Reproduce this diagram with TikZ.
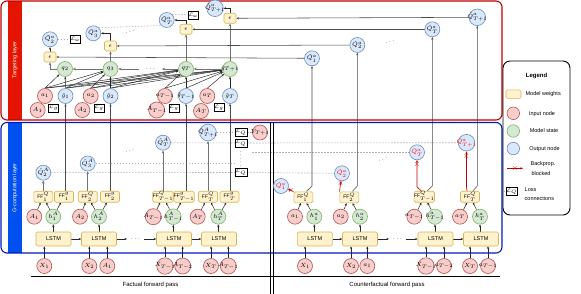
\documentclass[tikz,border=0pt]{standalone}
\usepackage{fontspec}
\setmainfont{Liberation Sans}
\usetikzlibrary{arrows.meta}
\pgfdeclarelayer{bg}
\pgfsetlayers{bg,main}
\definecolor{inF}{HTML}{F8CECC}\definecolor{inD}{HTML}{B85450}
\definecolor{stF}{HTML}{D5E8D4}\definecolor{stD}{HTML}{82B366}
\definecolor{ouF}{HTML}{DAE8FC}\definecolor{ouD}{HTML}{6C8EBF}
\definecolor{wtF}{HTML}{FFF2CC}\definecolor{wtD}{HTML}{D6B656}
\definecolor{tarR}{HTML}{E51400}\definecolor{tarD}{HTML}{C00000}
\definecolor{gcB}{HTML}{0050EF}\definecolor{gcD}{HTML}{001DBC}
\begin{document}
\begin{tikzpicture}[x=1pt,y=-1pt,
 nd/.style={circle,minimum size=15pt,inner sep=-2pt,line width=0.6pt,font=\fontsize{6.5}{7}\selectfont},
 inp/.style={nd,fill=inF,draw=inD},
 sta/.style={nd,fill=stF,draw=stD},
 outp/.style={nd,fill=ouF,draw=ouD},
 wt/.style={rectangle,rounded corners=1.5pt,fill=wtF,draw=wtD,line width=0.6pt,inner sep=0pt},
 ffb/.style={wt,minimum width=19pt,minimum height=11pt,font=\fontsize{5}{6}\selectfont},
 lstm/.style={wt,minimum width=35pt,minimum height=14pt,font=\fontsize{5.5}{6}\selectfont},
 epsb/.style={wt,minimum width=12pt,minimum height=10pt,font=\fontsize{6.5}{7}\selectfont},
 lossb/.style={rectangle,draw=black,fill=white,line width=0.5pt,minimum width=9pt,minimum height=8pt,inner sep=0.5pt,font=\fontsize{4.5}{5}\selectfont},
 arr/.style={-{Stealth[length=2.6pt,width=2.2pt]},line width=0.5pt,draw=black!85},
 garr/.style={-{Stealth[length=3pt,width=2.6pt]},line width=0.9pt,draw=black!55},
 upl/.style={-{Stealth[length=2.6pt,width=2.2pt]},line width=0.55pt,draw=black!70},
 lossl/.style={draw=black!30,dash pattern=on 1.5pt off 1.5pt,line width=0.6pt},
 blk/.style={-{Stealth[length=2.6pt,width=2.2pt]},line width=0.6pt,draw=red!75!black},
 xm/.style={text=red!85!black,inner sep=0pt,font=\fontsize{8.5}{8}\selectfont},
 dts/.style={inner sep=0pt,font=\fontsize{6.5}{6}\selectfont},
 lgt/.style={inner sep=0pt,font=\fontsize{5.5}{6}\selectfont}
]
\begin{pgfonlayer}{bg}
\fill[white] (0,0) rectangle (581,294);
\end{pgfonlayer}
\useasboundingbox (0,0) rectangle (581,294);

% ---------- layer boxes ----------
\fill[tarR] (8,1) rectangle (22,120);
\draw[tarD,line width=1.1pt,rounded corners=6pt] (1,1) rectangle (502,120);
\node[rotate=90,text=white,font=\fontsize{5.5}{6}\selectfont] at (15,60) {Targeting layer};
\fill[gcB] (8,122.5) rectangle (22,253);
\draw[gcD,line width=1.1pt,rounded corners=6pt] (1,122.5) rectangle (502,253);
\node[rotate=90,text=white,font=\fontsize{5.5}{6}\selectfont] at (15,188) {G-computation layer};

\draw[line width=0.8pt] (270.3,122.5) -- (270.3,294);
\draw[line width=0.8pt] (272.9,122.5) -- (272.9,294);
\draw[line width=0.8pt] (31,276) -- (500,276);
\node[font=\fontsize{6}{7}\selectfont] at (150.5,285) {Factual forward pass};
\node[font=\fontsize{6}{7}\selectfont] at (387,285) {Counterfactual forward pass};

% ---------- factual G-computation ----------
\node[inp] (X1) at (44.3,266) {$X_1$};
\node[inp] (X2) at (89.3,266) {$X_2$};
\node[inp] (A1b) at (107.3,266) {$A_1$};
\node[inp] (XTm) at (165,266) {$X_{T-1}$};
\node[inp] (ATm2b) at (182.7,266) {$A_{T-2}$};
\node[inp] (XT) at (211,266) {$X_T$};
\node[inp] (ATmb) at (228.3,266) {$A_{T-1}$};
\node[lstm] (L1) at (53.5,239) {LSTM};
\node[lstm] (L2) at (99,239) {LSTM};
\node[lstm] (L3) at (174,239) {LSTM};
\node[lstm] (L4) at (219,239) {LSTM};
\coordinate (dA) at (127,239);
\coordinate (dB) at (144,239);
\node[dts] at (135.5,239) {$\cdots$};
\node[inp] (A1) at (34.3,216.7) {$A_1$};
\node[sta] (h1) at (53.3,216.7) {$h^{A}_{1}$};
\node[inp] (A2) at (80,216.7) {$A_2$};
\node[sta] (h2) at (99,216.7) {$h^{A}_{2}$};
\node[inp] (ATm) at (153.3,216.7) {$A_{T-1}$};
\node[sta] (hTm) at (173.3,216.7) {$h^{A}_{T-1}$};
\node[inp] (AT) at (197.7,216.7) {$A_T$};
\node[sta] (hT) at (218.3,216.7) {$h^{A}_{T}$};
\node[ffb] (FQ1) at (43.3,196.7) {FF$^{Q}_{1}$};
\node[ffb] (Fg1) at (64,196.7) {FF$^{g}_{1}$};
\node[ffb] (FQ2) at (87.7,196.7) {FF$^{Q}_{2}$};
\node[ffb] (Fg2) at (110,196.7) {FF$^{g}_{2}$};
\node[ffb] (FQTm) at (163,196.7) {FF$^{Q}_{T-1}$};
\node[ffb] (FgTm) at (184,196.7) {FF$^{g}_{T-1}$};
\node[ffb] (FQT) at (208,196.7) {FF$^{Q}_{T}$};
\node[ffb] (FgT) at (229.5,196.7) {FF$^{g}_{T}$};
\node[outp] (QA2) at (43.3,172.7) {$\hat{Q}^{A}_{2}$};
\node[outp] (QA3) at (87.7,163.5) {$\hat{Q}^{A}_{3}$};
\node[outp] (QAT) at (163,142.7) {$\hat{Q}^{A}_{T}$};
\node[outp] (QAT1) at (208,132.5) {$\hat{Q}^{A}_{T+1}$};
\node[dts,rotate=20] at (130,151) {$\cdots$};
\node[lossb] (LQ1) at (241,132.5) {$\mathcal{L}_Q$};
\node[lossb] (LQ2) at (241,143) {$\mathcal{L}_Q$};
\node[lossb] (LQ3) at (241,172.5) {$\mathcal{L}_Q$};
\node[dts,rotate=90] at (241,157.5) {$\cdots\cdots$};
\node[inp] (YT1) at (260,132.5) {$Y_{T+1}$};
\coordinate (e3) at (236,163.5);
\coordinate (s4) at (252,152.3);

% ---------- counterfactual G-computation ----------
\node[inp] (Xc1) at (305,266) {$X_1$};
\node[inp] (Xc2) at (351,266) {$X_2$};
\node[inp] (a1b) at (367.3,266) {$a_1$};
\node[inp] (XcTm) at (426,266) {$X_{T-1}$};
\node[inp] (aTm2b) at (444,266) {$a_{T-2}$};
\node[inp] (XcT) at (470,266) {$X_T$};
\node[inp] (aTmb) at (488,266) {$a_{T-1}$};
\node[lstm] (Lc1) at (314.8,239) {LSTM};
\node[lstm] (Lc2) at (360,239) {LSTM};
\node[lstm] (Lc3) at (435.5,239) {LSTM};
\node[lstm] (Lc4) at (481,239) {LSTM};
\coordinate (dC) at (389,239);
\coordinate (dD) at (406,239);
\node[dts] at (397.5,239) {$\cdots$};
\node[inp] (ac1) at (295,216.7) {$a_1$};
\node[sta] (hc1) at (314.3,216.7) {$h^{a}_{1}$};
\node[inp] (ac2) at (340.7,216.7) {$a_2$};
\node[sta] (hc2) at (360,216.7) {$h^{a}_{2}$};
\node[inp] (acTm) at (414.3,216.7) {$a_{T-1}$};
\node[sta] (hcTm) at (435,216.7) {$h^{a}_{T-1}$};
\node[inp] (acT) at (460,216.7) {$a_T$};
\node[sta] (hcT) at (480,216.7) {$h^{a}_{T}$};
\node[ffb] (FQc1) at (303.3,197.3) {FF$^{Q}_{1}$};
\node[ffb] (FQc2) at (349.3,197.3) {FF$^{Q}_{2}$};
\node[ffb] (FQcTm) at (424.3,196.7) {FF$^{Q}_{T-1}$};
\node[ffb] (FQcT) at (470,196.7) {FF$^{Q}_{T}$};
\node[outp,text=red] (Qc1) at (281,186) {$\hat{Q}^{a}_{1}$};
\node[outp,text=red] (Qc2) at (342,173.3) {$\hat{Q}^{a}_{2}$};
\node[outp,text=red] (QcT) at (417,152.3) {$\hat{Q}^{a}_{T}$};
\node[outp,text=red] (QcT1) at (466.5,142.7) {$\hat{Q}^{a}_{T+1}$};
\node[dts,rotate=25] at (383,159.5) {$\cdots$};
\coordinate (rT) at (417,187);
\coordinate (rT1) at (466.5,187);
\coordinate (gc1) at (312,186);
\coordinate (gc2) at (357.3,186);
\coordinate (gcT) at (432.3,186);
\coordinate (gcT1) at (477.3,186);

% ---------- targeting layer ----------
\node[inp] (a1) at (45,96) {$a_1$};
\node[outp] (g1) at (65.5,96) {$\hat{g}_1$};
\node[inp] (A1t) at (37.7,110) {$A_1$};
\node[lossb] (Lg1) at (53.5,108) {$\mathcal{L}_g$};
\node[inp] (a2) at (90.7,96) {$a_2$};
\node[outp] (g2) at (110.5,96) {$\hat{g}_2$};
\node[inp] (A2t) at (82.3,110) {$A_2$};
\node[lossb] (Lg2) at (99,108) {$\mathcal{L}_g$};
\node[inp] (aTm) at (165,96) {$a_{T-1}$};
\node[outp] (gTm) at (186,96) {$\hat{g}_{T-1}$};
\node[inp] (ATmt) at (156.7,110) {$A_{T-1}$};
\node[lossb] (LgTm) at (174,108) {$\mathcal{L}_g$};
\node[inp] (aT) at (207.3,96) {$a_T$};
\node[outp] (gT) at (230,96) {$\hat{g}_T$};
\node[inp] (ATt) at (201,111) {$A_T$};
\node[lossb] (LgT) at (219,107.5) {$\mathcal{L}_g$};
\node[sta] (q2) at (65,69) {$q_2$};
\node[sta] (q3) at (110.5,69) {$q_3$};
\node[sta] (qT) at (186,69) {$q_T$};
\node[sta] (qT1) at (230,69) {$q_{T+1}$};
\coordinate (dq1) at (162,69);
\coordinate (dq2) at (139,69);
\node[dts] at (150.5,69) {$\cdots$};
\node[epsb] (e1) at (50,57) {$\epsilon$};
\node[epsb] (e2) at (110.5,46) {$\epsilon$};
\node[epsb] (eT) at (186,29.3) {$\epsilon$};
\node[epsb] (eT1) at (230,18.3) {$\epsilon$};
\node[outp] (Qt2) at (50,39.3) {$\tilde{Q}^{a}_{2}$};
\node[outp] (Qt3) at (93.3,33.3) {$\tilde{Q}^{a}_{3}$};
\node[outp] (QtT) at (166.7,20) {$\tilde{Q}^{a}_{T}$};
\node[outp] (QtT1) at (215,8.3) {$\tilde{Q}^{a}_{T+1}$};
\node[lossb] (Lt1) at (75,39.3) {$\mathcal{L}_{\mathrm{tar}}$};
\node[lossb] (Lt2) at (193,15) {$\mathcal{L}_{\mathrm{tar}}$};
\node[dts,rotate=15] at (130,31.5) {$\cdots$};
\node[outp] (Qs1) at (312,58.3) {$\hat{Q}^{a}_{1}$};
\node[outp] (Qs2) at (357.3,45) {$\hat{Q}^{a}_{2}$};
\node[outp] (QsT) at (432.3,29.3) {$\hat{Q}^{a}_{T}$};
\node[outp] (QsT1) at (477.3,17.3) {$\hat{Q}^{a}_{T+1}$};
\node[dts,rotate=15] at (390,41.5) {$\cdots$};

% ---------- connectors ----------
\begin{pgfonlayer}{bg}
\draw[lossl] (QA2) -- (LQ3) -- (Qc2);
\draw[lossl] (QA3) -- (e3);
\draw[lossl] (QAT) -- (LQ2) -- (QcT1);
\draw[lossl] (QAT1) -- (LQ1) -- (YT1);
\draw[lossl] (s4) -- (QcT);
\draw[lossl] (Qt2) -- (Lt1);
\draw[lossl] (Qt3.north east) -- (QtT.south west);
\draw[lossl] (QtT.north east) -- (Lt2);
\foreach \x/\l in {X1/L1,X2/L2,A1b/L2,XTm/L3,ATm2b/L3,XT/L4,ATmb/L4}
  \draw[arr] (\x) -- (\x |- \l.south);
\draw[arr] (L1) -- (L2);
\draw[arr] (L2) -- (dA);
\draw[arr] (dB) -- (L3);
\draw[arr] (L3) -- (L4);
\foreach \h/\l in {h1/L1,h2/L2,hTm/L3,hT/L4}
  \draw[arr] (\h |- \l.north) -- (\h);
\foreach \a/\f in {A1/FQ1,h1/FQ1,h1/Fg1,A2/FQ2,h2/FQ2,h2/Fg2,ATm/FQTm,hTm/FQTm,hTm/FgTm,AT/FQT,hT/FQT,hT/FgT}
  \draw[arr] (\a) -- (\f);
\foreach \f/\q in {FQ1/QA2,FQ2/QA3,FQTm/QAT,FQT/QAT1}
  \draw[garr] (\f) -- (\q);
\foreach \f/\g in {Fg1/g1,Fg2/g2,FgTm/gTm,FgT/gT}
  \draw[upl] (\g |- \f.north) -- (\g);
\foreach \x/\l in {Xc1/Lc1,Xc2/Lc2,a1b/Lc2,XcTm/Lc3,aTm2b/Lc3,XcT/Lc4,aTmb/Lc4}
  \draw[arr] (\x) -- (\x |- \l.south);
\draw[arr] (Lc1) -- (Lc2);
\draw[arr] (Lc2) -- (dC);
\draw[arr] (dD) -- (Lc3);
\draw[arr] (Lc3) -- (Lc4);
\foreach \h/\l in {hc1/Lc1,hc2/Lc2,hcTm/Lc3,hcT/Lc4}
  \draw[arr] (\h |- \l.north) -- (\h);
\foreach \a/\f in {ac1/FQc1,hc1/FQc1,ac2/FQc2,hc2/FQc2,acTm/FQcTm,hcTm/FQcTm,acT/FQcT,hcT/FQcT}
  \draw[arr] (\a) -- (\f);
\draw[upl] ([xshift=3pt]FQc1.north) -- (gc1) -- (Qs1);
\draw[upl] ([xshift=3pt]FQc2.north) -- (gc2) -- (Qs2);
\draw[upl] ([xshift=3pt]FQcTm.north) -- (gcT) -- (QsT);
\draw[upl] ([xshift=3pt]FQcT.north) -- (gcT1) -- (QsT1);
\foreach \s in {a1,g1} \draw[arr,line width=0.45pt] (\s.north) -- (q2);
\foreach \s in {a1,g1,a2,g2} \draw[arr,line width=0.45pt] (\s.north) -- (q3);
\foreach \s in {a1,g1,a2,g2,aTm,gTm} \draw[arr,line width=0.45pt] (\s.north) -- (qT);
\foreach \s in {a1,g1,a2,g2,aTm,gTm,aT,gT} \draw[arr,line width=0.45pt] (\s.north) -- (qT1);
\draw[garr] (q3) -- (q2);
\draw[garr] (qT1) -- (qT);
\draw[garr] (qT) -- (dq1);
\draw[garr] (dq2) -- (q3);
\draw[garr] (q2.west) -| (e1.south);
\draw[garr] (q3) -- (e2);
\draw[garr] (qT) -- (eT);
\draw[garr] (qT1) -- (eT1);
\draw[arr] (e1) -- (Qt2);
\draw[arr] (e2.north) |- (Qt3.east);
\draw[arr] (eT.north) |- (QtT.east);
\draw[arr] (eT1.north) |- (QtT1.east);
\draw[upl] (Qs1) -- (e1);
\draw[upl] (Qs2) -- (e2);
\draw[upl] (QsT) -- (eT);
\draw[upl] (QsT1) -- (eT1);
\end{pgfonlayer}
% blocked backprop (on top)
\draw[blk] (FQc1.north west) -- node[xm,pos=0.5]{$\times$} (Qc1);
\draw[blk] (FQc2.north west) -- node[xm,pos=0.75]{$\times$} (Qc2);
\draw[blk] ([xshift=-3pt]FQcTm.north) -- (rT) -- node[xm,pos=0.85]{$\times$} (QcT);
\draw[blk] ([xshift=-3pt]FQcT.north) -- (rT1) -- node[xm,pos=0.86]{$\times$} (QcT1);

% ---------- legend ----------
\draw[line width=0.9pt,rounded corners=7pt] (503,61) rectangle (570,215);
\node[font=\bfseries\fontsize{6}{7}\selectfont] at (536.5,75.5) {Legend};
\node[wt,minimum width=15pt,minimum height=8.5pt] (lw) at (513.5,94.2) {};
\node[lgt] at (543.2,94.2) {Model weights};
\node[inp,minimum size=12.5pt] (li) at (513.3,113.3) {};
\node[lgt] at (542,114) {Input node};
\node[sta,minimum size=12.5pt] (ls) at (513.3,131) {};
\node[lgt] at (544,131) {Model state};
\node[outp,minimum size=12.5pt] (lo) at (513.3,148.5) {};
\node[lgt] at (544.5,149) {Output node};
\coordinate (lb1) at (507,168.3);
\coordinate (lb2) at (523,168.3);
\draw[blk] (lb1) -- node[xm]{$\times$} (lb2);
\node[lgt] at (543,164.3) {Backprop.};
\node[lgt] at (541,173.3) {blocked};
\node[lossb] (ll) at (511.7,191.7) {$\mathcal{L}_Q$};
\coordinate (lld) at (503.5,191.7);
\draw[lossl] (lld) -- (ll);
\node[lgt,anchor=west] at (524.5,189.5) {Loss};
\node[lgt,anchor=west] at (524.5,198.5) {connections};
\end{tikzpicture}
\end{document}
